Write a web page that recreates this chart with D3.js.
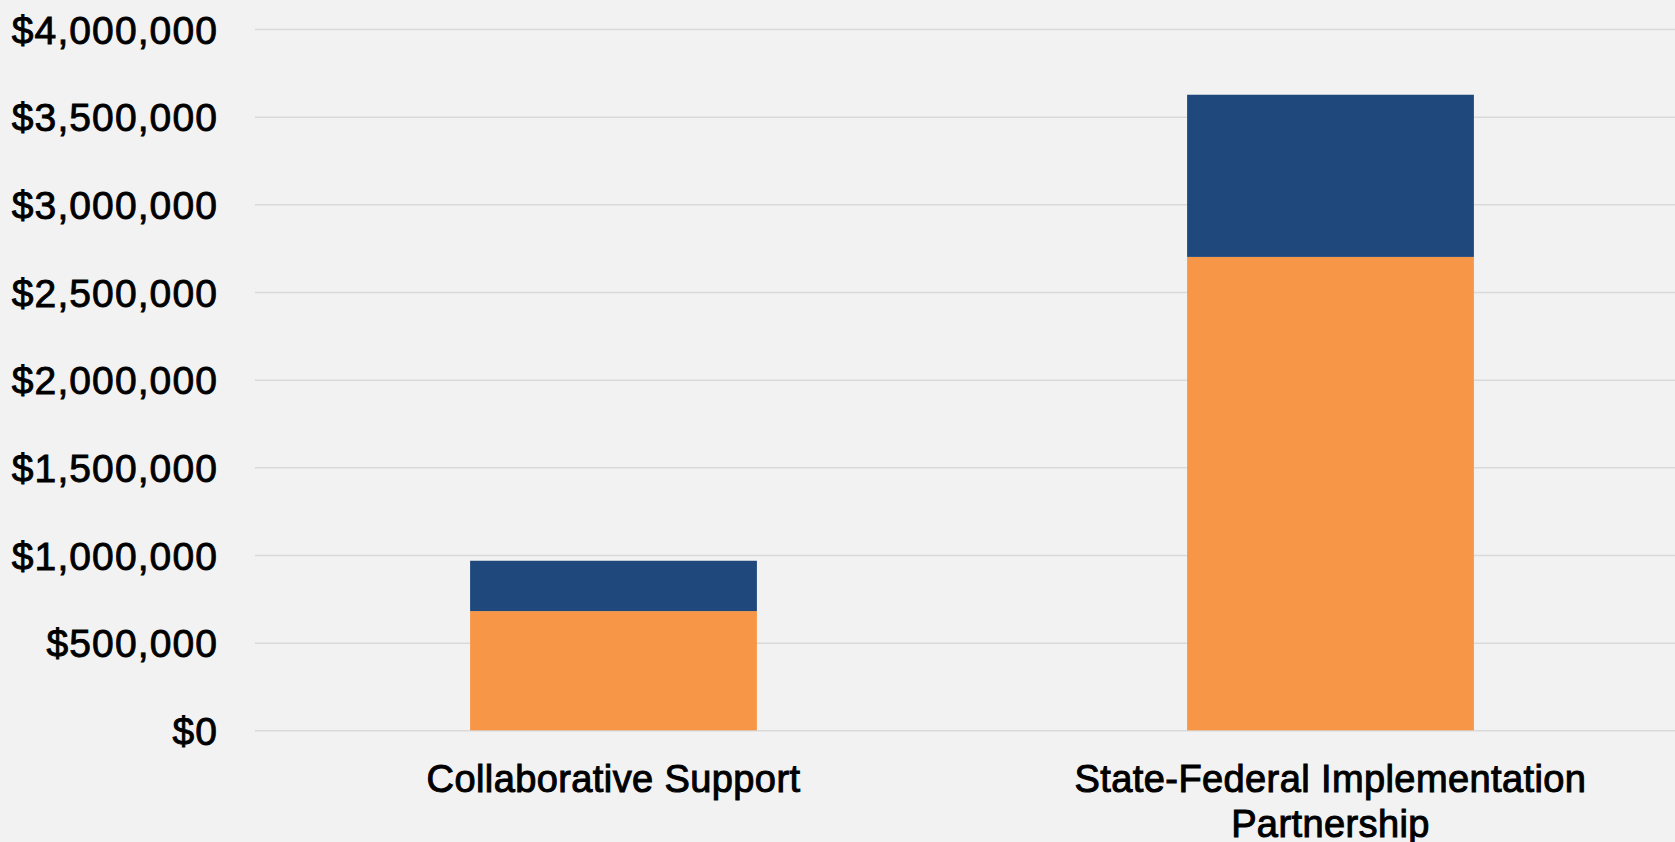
<!doctype html>
<html>
<head>
<meta charset="utf-8">
<title>Stacked funding</title>
<script src="https://d3js.org/d3.v7.min.js"></script>
<style>
  html, body { margin: 0; padding: 0; background: #f2f2f2; }
  svg { display: block; }
  text { font-family: "Liberation Sans", Arial, sans-serif; fill: #000; }
</style>
</head>
<body>
<div id="chart"></div>
<script>
// data
var categories = ["Collaborative Support", "State-Federal Implementation Partnership"];
var seriesNames = ["Lower", "Upper"];
var lowerValues = [680000, 2700000];
var upperValues = [287000, 925000];
var yTicks = [0, 500000, 1000000, 1500000, 2000000, 2500000, 3000000, 3500000, 4000000];
var colors = ["#f79646", "#1f497d"];

var W = 1675, H = 842;
var plotL = 255, plotR = 1689, plotT = 29, plotB = 730.3;

var svg = d3.select("#chart").append("svg")
    .attr("width", W).attr("height", H);

svg.append("rect").attr("width", W).attr("height", H).attr("fill", "#f2f2f2");

var x = d3.scaleBand().domain(categories).range([plotL, plotR])
    .paddingInner(0.6).paddingOuter(0.3);
var y = d3.scaleLinear().domain([0, 4000000]).range([plotB, plotT]);

// gridlines + y labels
var yAxis = svg.append("g")
    .attr("transform", "translate(" + plotL + ",0)")
    .call(d3.axisLeft(y).tickValues(yTicks)
      .tickSize(-(W - plotL)).tickPadding(37)
      .tickFormat(d3.format("$,")));
yAxis.select(".domain").remove();
yAxis.selectAll(".tick line").attr("stroke", "#d9d9d9").attr("stroke-width", 1.5);
yAxis.selectAll(".tick text")
    .attr("font-size", 39).attr("letter-spacing", 1.1)
    .attr("font-family", "'Liberation Sans', Arial, sans-serif")
    .attr("fill", "#000").attr("stroke", "#000").attr("stroke-width", 0.9)
    .attr("dy", "0.36em");

// stacked bars
var rows = categories.map(function(c, i) {
  return { cat: c, Lower: lowerValues[i], Upper: upperValues[i] };
});
var stack = d3.stack().keys(seriesNames)(rows);

svg.append("g").selectAll("g").data(stack).enter().append("g")
    .attr("fill", function(d, i) { return colors[i]; })
  .selectAll("rect").data(function(d) { return d; }).enter().append("rect")
    .attr("x", function(d) { return x(d.data.cat); })
    .attr("width", x.bandwidth())
    .attr("y", function(d) { return y(d[1]); })
    .attr("height", function(d) { return y(d[0]) - y(d[1]); });

// category labels, wrapped
var labels = svg.append("g").selectAll("text").data(categories).enter().append("text")
    .attr("x", function(d) { return x(d) + x.bandwidth() / 2; })
    .attr("y", 792)
    .attr("text-anchor", "middle")
    .attr("font-size", 38).attr("letter-spacing", 0.4)
    .attr("stroke", "#000").attr("stroke-width", 1)
    .attr("font-family", "'Liberation Sans', Arial, sans-serif");

labels.each(function(d) {
  var t = d3.select(this), words = d.split(" "), line = [];
  var tspan = t.append("tspan").attr("x", t.attr("x"));
  words.forEach(function(w) {
    line.push(w);
    tspan.text(line.join(" "));
    if (tspan.node().getComputedTextLength() > 580 && line.length > 1) {
      line.pop();
      tspan.text(line.join(" "));
      line = [w];
      tspan = t.append("tspan").attr("x", t.attr("x")).attr("dy", 44.5).text(w);
    }
  });
});
</script>
</body>
</html>
